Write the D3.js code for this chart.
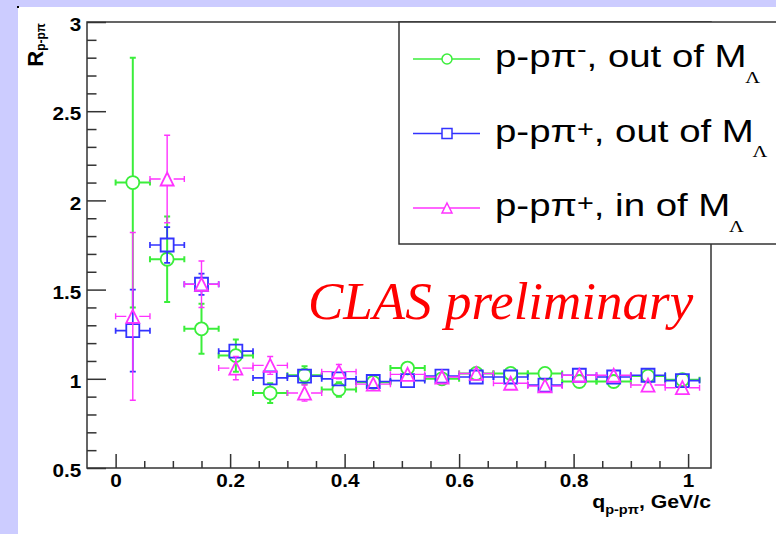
<!DOCTYPE html>
<html>
<head>
<meta charset="utf-8">
<script src="https://cdn.jsdelivr.net/npm/d3@7"></script>
<style>
  body { margin: 0; background: #ccccff; }
  svg { display: block; }
</style>
</head>
<body>
<div id="chart"></div>
<script>
// bin centres of q (GeV/c), half bin width is the x error
const qBins = [0.03, 0.09, 0.15, 0.21, 0.27, 0.33, 0.39, 0.45, 0.51, 0.57, 0.63, 0.69, 0.75, 0.81, 0.87, 0.93, 0.99];
const qHalfBin = 0.03;

// p-p pi-, out of M_Lambda
const piMinusOut    = [2.10, 1.67, 1.28, 1.13, 0.92, 1.02, 0.94, 0.98, 1.06, 1.00, 1.03, 1.03, 1.03, 0.985, 0.985, 1.015, 0.995];
const piMinusOutErr = [0.70, 0.24, 0.14, 0.09, 0.055, 0.05, 0.04, 0.03, 0.03, 0.03, 0.03, 0.03, 0.03, 0.03, 0.03, 0.03, 0.03];

// p-p pi+, out of M_Lambda
const piPlusOut    = [1.27, 1.75, 1.53, 1.155, 1.005, 1.015, 1.0, 0.985, 0.99, 1.015, 1.01, 1.01, 0.965, 1.02, 1.01, 1.02, 0.99];
const piPlusOutErr = [0.23, 0.10, 0.06, 0.03, 0.03, 0.025, 0.02, 0.02, 0.02, 0.02, 0.02, 0.02, 0.02, 0.02, 0.02, 0.02, 0.02];

// p-p pi+, in of M_Lambda
const piPlusIn    = [1.35, 2.12, 1.53, 1.06, 1.075, 0.92, 1.04, 0.97, 1.025, 1.01, 1.03, 0.975, 0.96, 1.02, 1.02, 0.965, 0.95];
const piPlusInErr = [0.47, 0.245, 0.13, 0.065, 0.05, 0.045, 0.04, 0.03, 0.03, 0.03, 0.03, 0.03, 0.03, 0.03, 0.03, 0.03, 0.03];

// axis ticks
const xMajorTicks = [0, 0.2, 0.4, 0.6, 0.8, 1];
const xMinorTicks = [0.05, 0.1, 0.15, 0.25, 0.3, 0.35, 0.45, 0.5, 0.55, 0.65, 0.7, 0.75, 0.85, 0.9, 0.95];
const yMajorTicks = [0.5, 1, 1.5, 2, 2.5, 3];
const yMinorTicks = [0.6, 0.7, 0.8, 0.9, 1.1, 1.2, 1.3, 1.4, 1.6, 1.7, 1.8, 1.9, 2.1, 2.2, 2.3, 2.4, 2.6, 2.7, 2.8, 2.9];

// legend
const legendCharges = ["-", "+", "+"];
const legendWhere = ["out of", "out of", "in of"];

const width = 776, height = 534;
const frame = {left: 87, right: 711, top: 22, bottom: 468};
const sans = "'Liberation Sans', Arial, Helvetica, sans-serif";

const svg = d3.select("#chart")
    .append("svg")
    .attr("width", width)
    .attr("height", height);

// lavender pad with the white canvas on it
svg.append("rect").attr("width", width).attr("height", height).attr("fill", "#ccccff");
svg.append("rect").attr("x", 18).attr("y", 7).attr("width", width - 18).attr("height", height - 7).attr("fill", "#fff");
svg.append("rect").attr("x", 17).attr("y", 6).attr("width", 2).attr("height", 2).attr("fill", "#000");

const x = d3.scaleLinear().domain([-0.05, 1.04]).range([frame.left, frame.right]);
const y = d3.scaleLinear().domain([0.5, 3]).range([frame.bottom, frame.top]);

// axes (ticks point inside the frame, ROOT style)
const fmt = d3.format("~g");

const xMajor = svg.append("g")
    .attr("transform", `translate(0,${frame.bottom})`)
    .attr("color", "#333")
    .call(d3.axisBottom(x).tickValues(xMajorTicks).tickSizeInner(-14).tickSizeOuter(0).tickPadding(6).tickFormat(fmt));
svg.append("g")
    .attr("transform", `translate(0,${frame.bottom})`)
    .attr("color", "#333")
    .call(d3.axisBottom(x).tickValues(xMinorTicks).tickSizeInner(-7).tickSizeOuter(0).tickFormat(""));

const yMajor = svg.append("g")
    .attr("transform", `translate(${frame.left},0)`)
    .attr("color", "#333")
    .call(d3.axisLeft(y).tickValues(yMajorTicks).tickSizeInner(-19).tickSizeOuter(0).tickPadding(5).tickFormat(fmt));
svg.append("g")
    .attr("transform", `translate(${frame.left},0)`)
    .attr("color", "#333")
    .call(d3.axisLeft(y).tickValues(yMinorTicks).tickSizeInner(-9.5).tickSizeOuter(0).tickFormat(""));

svg.selectAll(".domain").remove();
svg.selectAll(".tick line").attr("stroke-width", 1.5);

xMajor.selectAll("text")
    .attr("font-family", sans).attr("font-weight", "bold").attr("font-size", 18)
    .attr("fill", "#000").attr("transform", "scale(1.15,1)");
yMajor.selectAll("text")
    .attr("font-family", sans).attr("font-weight", "bold").attr("font-size", 18)
    .attr("fill", "#000").attr("dy", "0.48em").attr("transform", "scale(1.15,1)");

// frame
svg.append("rect")
    .attr("x", frame.left).attr("y", frame.top)
    .attr("width", frame.right - frame.left).attr("height", frame.bottom - frame.top)
    .attr("fill", "none").attr("stroke", "#333").attr("stroke-width", 1.5);

// axis titles
const xTitle = svg.append("text")
    .attr("transform", `translate(${frame.right},508) scale(1.12,1)`)
    .attr("text-anchor", "end")
    .attr("font-family", sans).attr("font-weight", "bold").attr("font-size", 19);
xTitle.append("tspan").text("q");
xTitle.append("tspan").attr("font-size", 13).attr("dy", 6).text("p-pπ");
xTitle.append("tspan").attr("dy", -6).text(", GeV/c");

const yTitle = svg.append("text")
    .attr("transform", "translate(43,23) rotate(-90)")
    .attr("text-anchor", "end")
    .attr("font-family", sans).attr("font-weight", "bold").attr("font-size", 22);
yTitle.append("tspan").text("R");
yTitle.append("tspan").attr("font-size", 12).attr("dy", 2).text("p-pπ");

// marker shapes
function markerPath(kind, s) {
    if (kind === "circle") return d3.symbol(d3.symbolCircle, Math.PI * s * s)();
    if (kind === "square") return `M${-s},${-s}H${s}V${s}H${-s}Z`;
    return `M0,${-s}L${s},${s}L${-s},${s}Z`;
}

function drawSeries(values, errors, color, lw, kind) {
    const half = 6.5;
    const cap = 3;
    const pts = qBins.map((q, i) => ({q: q, v: values[i], e: errors[i]}));
    const g = svg.append("g").attr("stroke", color).attr("stroke-width", lw).attr("fill", "none");

    const big = pts.filter(d => y(d.v - d.e) - y(d.v) > half);
    // vertical error bars, broken around the marker
    g.selectAll(".eup").data(big).join("path")
        .attr("d", d => `M${x(d.q)},${y(d.v + d.e)}V${y(d.v) - half}M${x(d.q)},${y(d.v) + half}V${y(d.v - d.e)}`);
    g.selectAll(".ecap").data(big).join("path")
        .attr("d", d => `M${x(d.q) - cap},${y(d.v + d.e)}H${x(d.q) + cap}M${x(d.q) - cap},${y(d.v - d.e)}H${x(d.q) + cap}`);
    // horizontal error bars
    g.selectAll(".ex").data(pts).join("path")
        .attr("d", d => `M${x(d.q - qHalfBin)},${y(d.v)}H${x(d.q) - half}M${x(d.q) + half},${y(d.v)}H${x(d.q + qHalfBin)}`);
    g.selectAll(".excap").data(pts).join("path")
        .attr("d", d => `M${x(d.q - qHalfBin)},${y(d.v) - cap}V${y(d.v) + cap}M${x(d.q + qHalfBin)},${y(d.v) - cap}V${y(d.v) + cap}`);
    // markers
    g.selectAll(".mk").data(pts).join("path")
        .attr("transform", d => `translate(${x(d.q)},${y(d.v)})`)
        .attr("d", markerPath(kind, half))
        .attr("stroke-width", 1.8);
}

const seriesColors = ["#3bee3b", "#3333ff", "#ff33ff"];
const seriesKinds = ["circle", "square", "triangle"];

drawSeries(piMinusOut, piMinusOutErr, seriesColors[0], 2, seriesKinds[0]);
drawSeries(piPlusOut, piPlusOutErr, seriesColors[1], 1.7, seriesKinds[1]);
drawSeries(piPlusIn, piPlusInErr, seriesColors[2], 1.4, seriesKinds[2]);

// legend box
svg.append("rect")
    .attr("x", 399).attr("y", 22).attr("width", 400).attr("height", 222)
    .attr("fill", "#fff").attr("stroke", "#333").attr("stroke-width", 1.5);

const rowY = [59, 133.5, 208];
const supDy = [-10, -5, -5];
legendCharges.forEach((c, i) => {
    const row = svg.append("g").attr("stroke", seriesColors[i]).attr("fill", "none").attr("stroke-width", 1.5);
    row.append("line").attr("x1", 413).attr("x2", 480).attr("y1", rowY[i]).attr("y2", rowY[i]);
    row.append("path")
        .attr("transform", `translate(447,${rowY[i]})`)
        .attr("d", markerPath(seriesKinds[i], 5))
        .attr("fill", "#fff");

    const t = svg.append("text")
        .attr("transform", `translate(495,${rowY[i] + 8}) scale(1.2,1)`)
        .attr("font-family", sans).attr("font-size", 32).attr("fill", "#000");
    t.append("tspan").text("p-pπ");
    t.append("tspan").style("font-size", "24px").attr("dy", supDy[i]).text(c);
    t.append("tspan").style("font-size", "32px").attr("dy", -supDy[i]).text(`, ${legendWhere[i]} M`);
    t.append("tspan").attr("font-family", "'Liberation Serif', 'Times New Roman', serif")
        .style("font-size", "17px").attr("dy", 16).attr("dx", -1).text("Λ");
});

// preliminary stamp
svg.append("text")
    .attr("x", 308).attr("y", 319)
    .attr("font-family", "'Liberation Serif', 'Times New Roman', serif")
    .attr("font-style", "italic").attr("font-size", 53)
    .attr("fill", "#ff0000")
    .text("CLAS preliminary");
</script>
</body>
</html>
